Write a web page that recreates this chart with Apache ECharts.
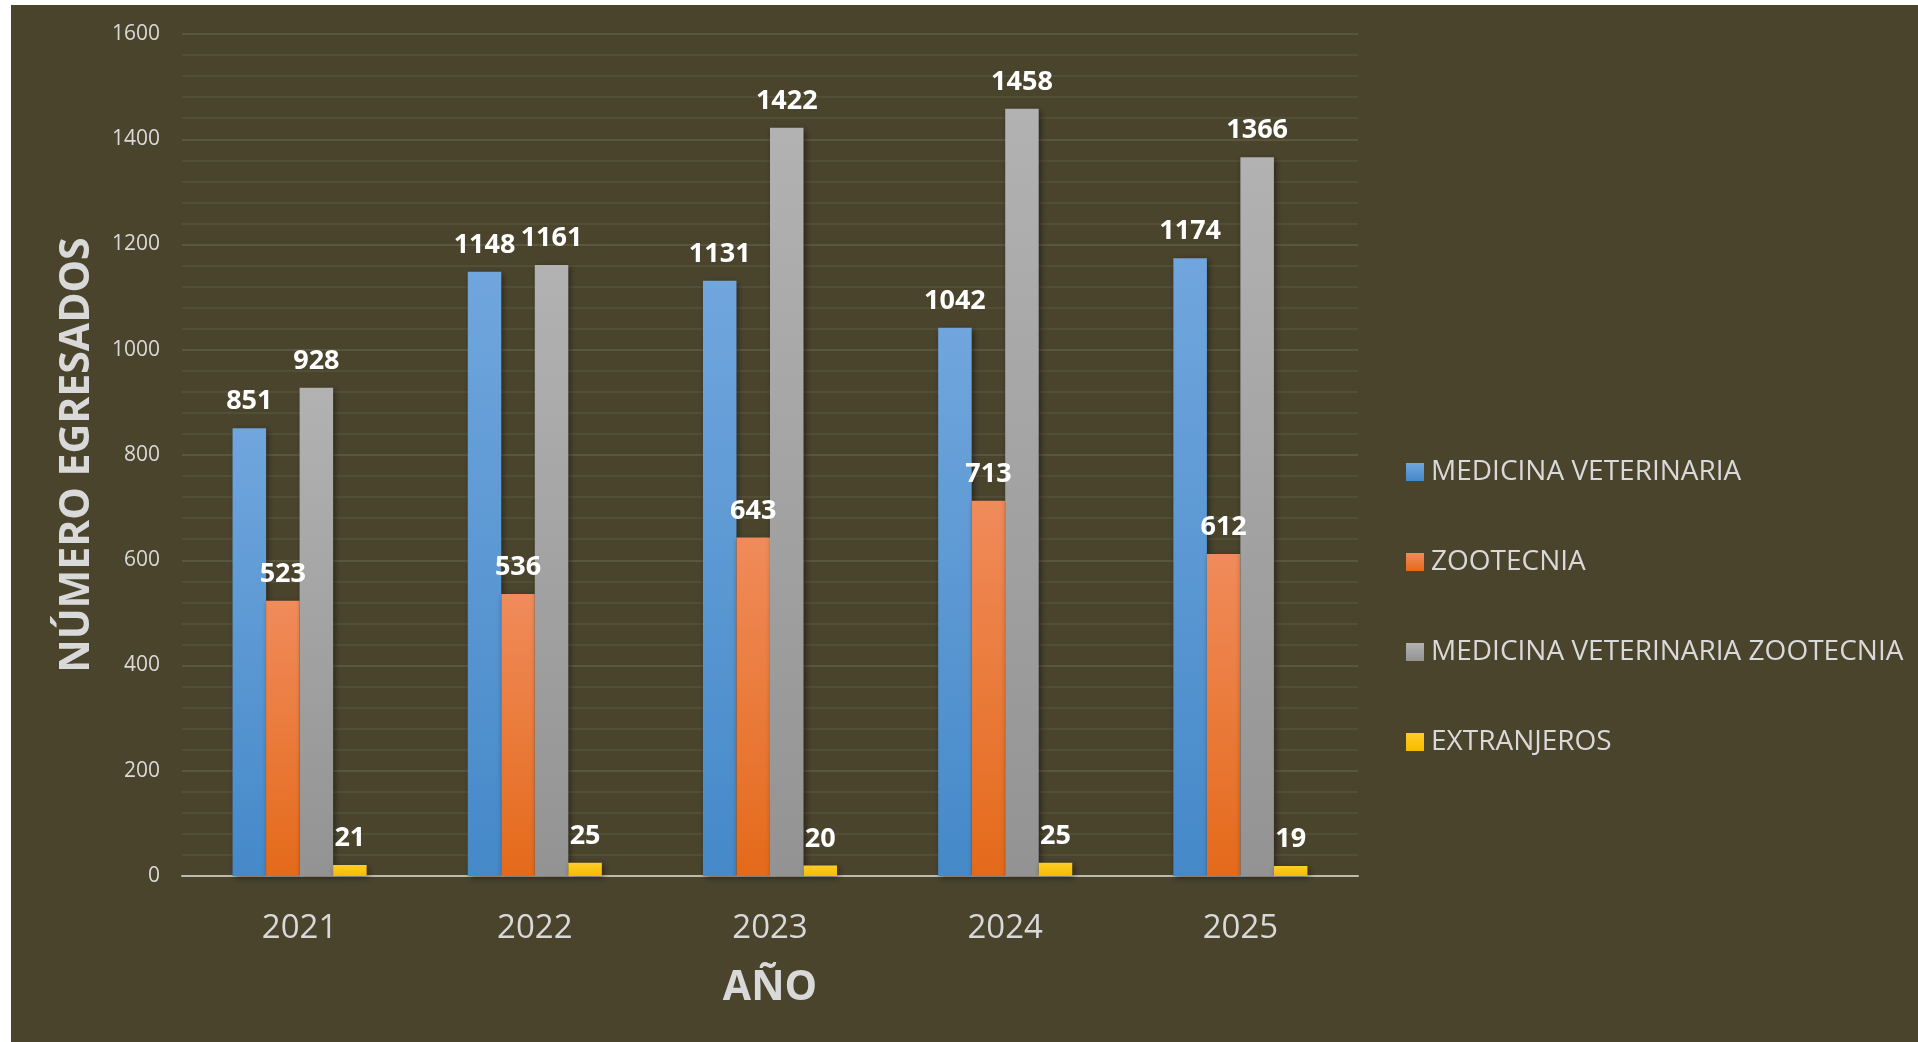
<!DOCTYPE html>
<html>
<head>
<meta charset="utf-8">
<script src="https://cdn.jsdelivr.net/npm/echarts@6/dist/echarts.min.js"></script>
<style>
  html, body { margin: 0; padding: 0; background: #ffffff; }
  #chart { position: absolute; left: 11px; top: 5px; width: 1907px; height: 1037px; }
</style>
</head>
<body>
<div id="chart"></div>
<script>
// datos del gráfico
const years = ['2021', '2022', '2023', '2024', '2025'];
const seriesNames = ['MEDICINA VETERINARIA', 'ZOOTECNIA', 'MEDICINA VETERINARIA ZOOTECNIA', 'EXTRANJEROS'];
const medicinaVeterinaria = [851, 1148, 1131, 1042, 1174];
const zootecnia = [523, 536, 643, 713, 612];
const medicinaVetZootecnia = [928, 1161, 1422, 1458, 1366];
const extranjeros = [21, 25, 20, 25, 19];

const FONT = '"Open Sans", sans-serif';

// degradado vertical para cada serie
function grad(top, bottom) {
  return new echarts.graphic.LinearGradient(0, 0, 0, 1, [
    { offset: 0, color: top },
    { offset: 1, color: bottom }
  ]);
}

const colors = [
  grad('#70a6dd', '#4589c9'),
  grad('#f08b5b', '#e46a1a'),
  grad('#b2b2b2', '#939393'),
  grad('#ffcd2a', '#f5bb00')
];

function makeSeries(name, data, color) {
  return {
    name: name,
    type: 'bar',
    data: data,
    barGap: '0%',
    barCategoryGap: '43%',
    itemStyle: {
      color: color,
      shadowColor: 'rgba(0,0,0,0.45)',
      shadowBlur: 6,
      shadowOffsetX: 2,
      shadowOffsetY: 2
    },
    label: {
      show: true,
      position: 'top',
      distance: 13,
      color: '#ffffff',
      fontFamily: FONT,
      fontWeight: 'bold',
      fontSize: 27
    }
  };
}

const chart = echarts.init(document.getElementById('chart'));
chart.setOption({
  backgroundColor: '#4a442d',
  animation: false,
  grid: { left: 171, right: 560, top: 29, bottom: 166 },
  legend: {
    orient: 'vertical',
    left: 1390,
    top: 447,
    itemWidth: 18,
    itemHeight: 18,
    itemGap: 60,
    icon: 'rect',
    textStyle: {
      color: '#d9d9d9',
      fontFamily: FONT,
      fontSize: 28,
      lineHeight: 30,
      padding: [0, 0, 0, 2]
    },
    data: seriesNames
  },
  xAxis: {
    type: 'category',
    data: years,
    name: 'AÑO',
    nameLocation: 'middle',
    nameGap: 92,
    nameTextStyle: { color: '#d9d9d9', fontFamily: FONT, fontWeight: 'bold', fontSize: 41 },
    axisLine: { lineStyle: { color: '#bdbab0', width: 2 } },
    axisTick: { show: false },
    axisLabel: { color: '#d9d9d9', fontFamily: FONT, fontSize: 33, margin: 36 }
  },
  yAxis: {
    type: 'value',
    min: 0,
    max: 1600,
    interval: 200,
    name: 'NÚMERO EGRESADOS',
    nameLocation: 'middle',
    nameRotate: 90,
    nameGap: 84,
    nameTextStyle: { color: '#d9d9d9', fontFamily: FONT, fontWeight: 'bold', fontSize: 41 },
    axisLine: { show: false },
    axisTick: { show: false },
    axisLabel: {
      color: '#d9d9d9', fontFamily: FONT, fontSize: 21, margin: 22,
      formatter: function (v) { return String(v); }
    },
    splitLine: { lineStyle: { color: '#625c45', width: 1.5 } },
    minorTick: { show: false, splitNumber: 5 },
    minorSplitLine: { show: true, lineStyle: { color: '#57513a', width: 1.5 } }
  },
  series: [
    makeSeries(seriesNames[0], medicinaVeterinaria, colors[0]),
    makeSeries(seriesNames[1], zootecnia, colors[1]),
    makeSeries(seriesNames[2], medicinaVetZootecnia, colors[2]),
    makeSeries(seriesNames[3], extranjeros, colors[3])
  ]
});
</script>
</body>
</html>
